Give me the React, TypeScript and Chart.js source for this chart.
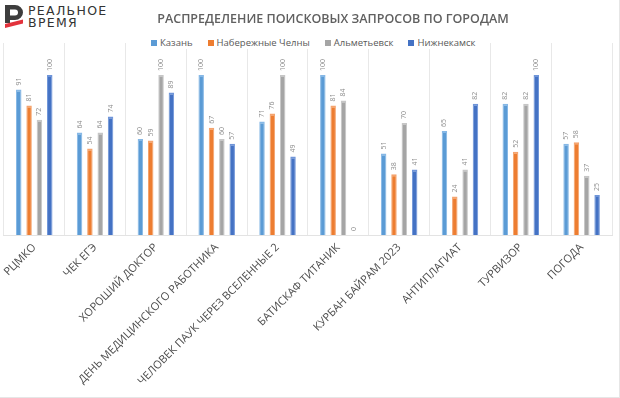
import React, { useEffect, useRef } from "react";
import { Chart, registerables } from "chart.js";

Chart.register(...registerables);

const categories = [
  "РЦМКО",
  "ЧЕК ЕГЭ",
  "ХОРОШИЙ ДОКТОР",
  "ДЕНЬ МЕДИЦИНСКОГО РАБОТНИКА",
  "ЧЕЛОВЕК ПАУК ЧЕРЕЗ ВСЕЛЕННЫЕ 2",
  "БАТИСКАФ ТИТАНИК",
  "КУРБАН БАЙРАМ 2023",
  "АНТИПЛАГИАТ",
  "ТУРВИЗОР",
  "ПОГОДА",
];

const seriesNames = ["Казань", "Набережные Челны", "Альметьевск", "Нижнекамск"];

const kazan = [91, 64, 60, 100, 71, 100, 51, 65, 82, 57];
const chelny = [81, 54, 59, 67, 76, 81, 38, 24, 52, 58];
const almetyevsk = [72, 64, 100, 60, 100, 84, 70, 41, 82, 37];
const nizhnekamsk = [100, 74, 89, 57, 49, 0, 41, 82, 100, 25];

const seriesValues = [kazan, chelny, almetyevsk, nizhnekamsk];
const fillColors = ["#5B9BD5", "#ED7D31", "#A5A5A5", "#4472C4"];
const edgeColors = ["#86b8e6", "#f5a46e", "#c6c6c6", "#6f95d9"];

const titleText = "РАСПРЕДЕЛЕНИЕ ПОИСКОВЫХ ЗАПРОСОВ ПО ГОРОДАМ";

const valueLabels = {
  id: "valueLabels",
  afterDatasetsDraw(chart: any) {
    const ctx = chart.ctx;
    ctx.save();
    ctx.font = '7px "Open Sans"';
    ctx.fillStyle = "#8f8f8f";
    chart.data.datasets.forEach((ds: any, di: number) => {
      const meta = chart.getDatasetMeta(di);
      meta.data.forEach((bar: any, i: number) => {
        const v = ds.data[i];
        ctx.save();
        ctx.translate(bar.x, bar.y - 4);
        ctx.rotate(-Math.PI / 2);
        ctx.textAlign = "left";
        ctx.textBaseline = "middle";
        ctx.fillText(String(v), 0, 0);
        ctx.restore();
      });
    });
    ctx.restore();
  },
};

function ChartCanvas() {
  const ref = useRef<HTMLCanvasElement | null>(null);
  useEffect(() => {
    if (!ref.current) return;
    const chart = new Chart(ref.current, {
      type: "bar",
      data: {
        labels: categories,
        datasets: seriesValues.map((vals, i) => ({
          label: seriesNames[i],
          data: vals,
          backgroundColor: fillColors[i],
          borderColor: edgeColors[i],
          borderWidth: { top: 2, left: 1, right: 1, bottom: 0 },
          borderSkipped: false,
          categoryPercentage: 0.68,
          barPercentage: 0.53,
        })),
      },
      options: {
        responsive: false,
        animation: false,
        layout: { padding: { top: 43, left: 1, right: 8, bottom: 4 } },
        plugins: {
          legend: { display: false },
          title: { display: false },
          tooltip: { enabled: false },
        },
        scales: {
          x: {
            offset: true,
            grid: { color: "#e8e8e8", drawTicks: false, offset: true },
            border: { color: "#e3e3e3" },
            ticks: {
              autoSkip: false,
              maxRotation: 45,
              minRotation: 45,
              padding: 6,
              color: "#4d4d4d",
              font: { family: "Open Sans", size: 11 },
            },
          },
          y: {
            display: false,
            min: 0,
            max: 120,
          },
        },
      },
      plugins: [valueLabels],
    });
    return () => chart.destroy();
  }, []);
  return <canvas ref={ref} width={620} height={398} style={{ display: "block" }} />;
}

export default function App() {
  return (
    <div
      style={{
        position: "absolute",
        left: 0,
        top: 0,
        width: 620,
        height: 398,
        background: "#fff",
        fontFamily: "Open Sans",
        overflow: "hidden",
      }}
    >
      <ChartCanvas />
      <div
        style={{
          position: "absolute",
          right: 0,
          top: 0,
          width: 1,
          height: 398,
          background: "#e6e6e6",
        }}
      />
      <div
        style={{
          position: "absolute",
          left: 0,
          bottom: 0,
          width: 620,
          height: 1,
          background: "#e6e6e6",
        }}
      />
      <div style={{ position: "absolute", left: 0, top: 0, width: 125, height: 36, background: "#fff" }}>
        <svg width={22} height={25} style={{ position: "absolute", left: 4, top: 4 }} viewBox="0 0 22 25">
          <path
            fillRule="evenodd"
            fill="#3d3d3d"
            d="M1 1 H11 A8 7.5 0 0 1 11 16 H6 V19 H1 Z M6 5.5 H11 A3 3 0 0 1 11 11.5 H6 Z"
          />
          <path fill="#e2323c" d="M1 20 L19 15.5 L19 19.5 L1 24 Z" />
        </svg>
        <div
          style={{
            position: "absolute",
            left: 28,
            top: 5,
            fontFamily: "DejaVu Sans",
            fontSize: 12.5,
            lineHeight: "12px",
            letterSpacing: 1.3,
            color: "#333",
          }}
        >
          РЕАЛЬНОЕ
          <br />
          ВРЕМЯ
        </div>
      </div>
      <div
        style={{
          position: "absolute",
          left: 0,
          width: 666,
          top: 10,
          textAlign: "center",
          fontSize: 12.5,
          fontWeight: 600,
          letterSpacing: 0,
          color: "#606060",
          whiteSpace: "nowrap",
        }}
      >
        {titleText}
      </div>
      <div
        style={{
          position: "absolute",
          left: 148,
          top: 36,
          height: 13,
          padding: "0 3px",
          background: "#fff",
          display: "flex",
          alignItems: "center",
          fontSize: 9.5,
          color: "#595959",
          whiteSpace: "nowrap",
        }}
      >
        {seriesNames.map((n, i) => (
          <div key={n} style={{ display: "flex", alignItems: "center", marginRight: i < 3 ? 15 : 0 }}>
            <span
              style={{
                display: "inline-block",
                width: 6,
                height: 6,
                background: fillColors[i],
                marginRight: 3,
              }}
            />
            <span>{n}</span>
          </div>
        ))}
      </div>
    </div>
  );
}
